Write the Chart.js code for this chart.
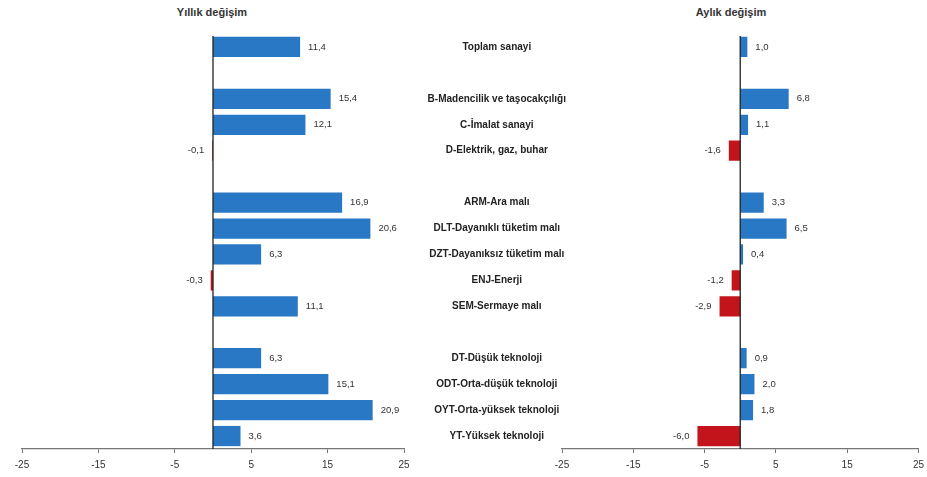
<!DOCTYPE html>
<html>
<head>
<meta charset="utf-8">
<script src="https://cdn.jsdelivr.net/npm/chart.js@4.4.0/dist/chart.umd.min.js"></script>
<style>
  html, body { margin: 0; padding: 0; background: #fff; overflow: hidden; width: 927px; height: 477px; }
  #wrapL { position: absolute; left: 0; top: 0; width: 420px; height: 477px; }
  #wrapR { position: absolute; left: 412px; top: 0; width: 518px; height: 477px; }
  .ttl { position: absolute; top: 6px; font: bold 11px "Liberation Sans", Arial, sans-serif; color: #333; white-space: nowrap; transform: translateX(-50%); }
</style>
</head>
<body>
<div class="ttl" id="tL" style="left:212px;">Yıllık değişim</div>
<div class="ttl" id="tR" style="left:731px;">Aylık değişim</div>
<div id="wrapL"><canvas id="cL"></canvas></div>
<div id="wrapR"><canvas id="cR"></canvas></div>
<script>
const categories = [
  "Toplam sanayi", "",
  "B-Madencilik ve taşocakçılığı", "C-İmalat sanayi", "D-Elektrik, gaz, buhar", "",
  "ARM-Ara malı", "DLT-Dayanıklı tüketim malı", "DZT-Dayanıksız tüketim malı", "ENJ-Enerji", "SEM-Sermaye malı", "",
  "DT-Düşük teknoloji", "ODT-Orta-düşük teknoloji", "OYT-Orta-yüksek teknoloji", "YT-Yüksek teknoloji"
];
const yearlyChange = [11.4, null, 15.4, 12.1, -0.1, null, 16.9, 20.6, 6.3, -0.3, 11.1, null, 6.3, 15.1, 20.9, 3.6];
const monthlyChange = [1.0, null, 6.8, 1.1, -1.6, null, 3.3, 6.5, 0.4, -1.2, -2.9, null, 0.9, 2.0, 1.8, -6.0];
const xTickMin = -25, xTickMax = 25, xTickStep = 10;

const BLUE = '#2878C6', RED = '#C3141C';
const FONT = '"Liberation Sans", Arial, sans-serif';

const valueLabels = {
  id: 'valueLabels',
  afterDatasetsDraw(chart) {
    const ctx = chart.ctx;
    const meta = chart.getDatasetMeta(0);
    const data = chart.data.datasets[0].data;
    ctx.save();
    ctx.font = '9.5px ' + FONT;
    ctx.fillStyle = '#333';
    ctx.textBaseline = 'middle';
    meta.data.forEach((el, i) => {
      const v = data[i];
      if (v === null || v === undefined) return;
      const txt = v.toFixed(1).replace('.', ',');
      if (v >= 0) { ctx.textAlign = 'left'; ctx.fillText(txt, el.x + 8, el.y); }
      else { ctx.textAlign = 'right'; ctx.fillText(txt, Math.min(el.x, el.base) - 8, el.y); }
    });
    ctx.restore();
  }
};
const zeroLine = {
  id: 'zeroLine',
  afterDatasetsDraw(chart) {
    const ctx = chart.ctx, xs = chart.scales.x, a = chart.chartArea;
    const x = xs.getPixelForValue(0);
    ctx.save();
    ctx.strokeStyle = '#222';
    ctx.lineWidth = 1.3;
    ctx.beginPath();
    ctx.moveTo(x, a.top + 2);
    ctx.lineTo(x, a.bottom);
    ctx.stroke();
    ctx.restore();
  }
};

function makeChart(id, values, withLabels, padding) {
  return new Chart(document.getElementById(id), {
    type: 'bar',
    data: {
      labels: categories,
      datasets: [{
        data: values,
        backgroundColor: values.map(v => (v !== null && v < 0) ? RED : BLUE),
        borderWidth: 0,
        categoryPercentage: 1,
        barPercentage: 0.78
      }]
    },
    options: {
      indexAxis: 'y',
      responsive: true,
      maintainAspectRatio: false,
      animation: false,
      layout: { padding: padding },
      plugins: { legend: { display: false }, tooltip: { enabled: false }, title: { display: false } },
      scales: {
        x: {
          type: 'linear',
          min: xTickMin, max: xTickMax,
          afterBuildTicks(scale) {
            const t = [];
            for (let v = xTickMin; v <= xTickMax; v += xTickStep) t.push({ value: v });
            scale.ticks = t;
          },
          border: { display: true, color: '#777', width: 1.3 },
          grid: { display: true, drawOnChartArea: false, drawTicks: true, tickLength: 4, color: '#777' },
          ticks: { color: '#333', font: { size: 10, family: FONT }, padding: 6, maxRotation: 0, autoSkip: false }
        },
        y: withLabels ? {
          type: 'category',
          border: { display: false },
          grid: { display: false },
          ticks: { crossAlign: 'center', color: '#222', padding: -12, autoSkip: false, font: { size: 10, weight: 'bold', family: FONT } },
          afterFit(scale) {
            scale.width = 150;
            scale._computeLabelArea = () => undefined;
          }
        } : { type: 'category', display: false }
      }
    },
    plugins: [valueLabels, zeroLine]
  });
}

makeChart('cL', yearlyChange, false, { left: 22, right: 16, top: 34, bottom: 0 });
makeChart('cR', monthlyChange, true, { left: 0, right: 8, top: 34, bottom: 0 });
</script>
</body>
</html>
